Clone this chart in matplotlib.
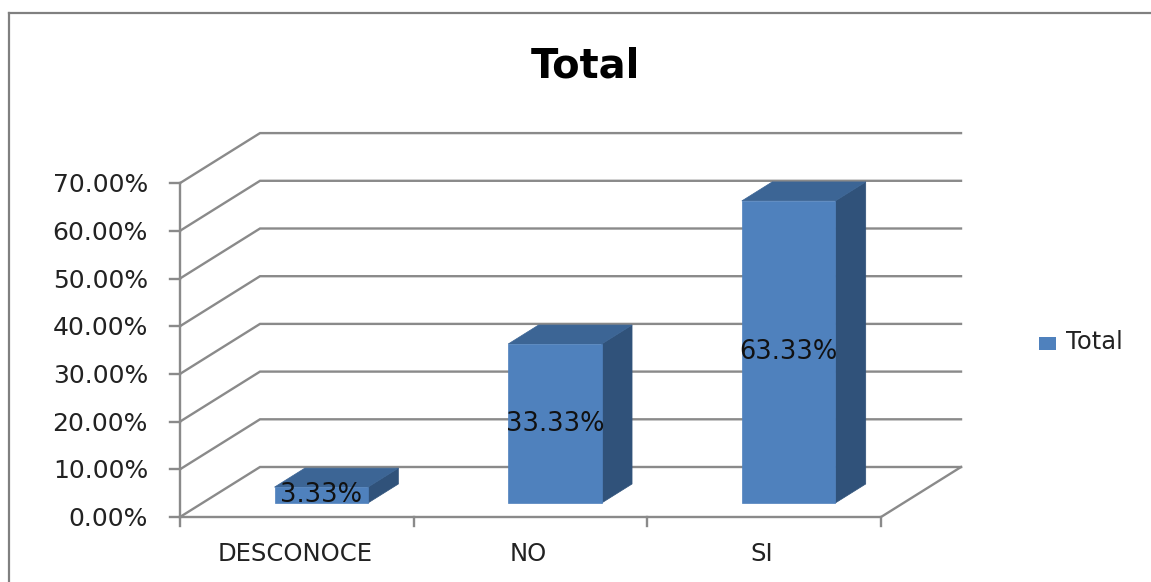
import matplotlib
matplotlib.use('Agg')
import matplotlib.pyplot as plt
from matplotlib.patches import Polygon, Rectangle
from matplotlib.lines import Line2D

# ---------------- data ----------------
categories = ['DESCONOCE', 'NO', 'SI']
values = [3.33, 33.33, 63.33]
value_labels = ['3.33%', '33.33%', '63.33%']
series_name = 'Total'
y_ticks = [0, 10, 20, 30, 40, 50, 60, 70]
y_tick_labels = ['0.00%', '10.00%', '20.00%', '30.00%', '40.00%', '50.00%', '60.00%', '70.00%']
title = 'Total'

# ---------------- layout ----------------
W, H = 1151, 582
fig = plt.figure(figsize=(W / 100, H / 100), dpi=100)
ax = fig.add_axes([0, 0, 1, 1])

PXX = 233.67   # pixels per category unit
PXY = 4.77     # pixels per percent
X0_PX = 180    # x pixel of category origin
Y0_PX = 517    # y pixel (from top) of 0 %
ax.set_xlim(-X0_PX / PXX, (W - X0_PX) / PXX)
ax.set_ylim(-(H - Y0_PX) / PXY, Y0_PX / PXY)
ax.axis('off')

DEPTH_X = 80 / PXX
DEPTH_Y = 50 / PXY


def P(x, y, d):
    return (x + d * DEPTH_X, y + d * DEPTH_Y)


n = len(categories)
ymax = y_ticks[-1]
grid_c = '#8a8a8a'
glw = 1.7

# gridlines: left wall diagonal + back wall horizontal
for t in y_ticks:
    pts = [P(0, t, 0), P(0, t, 1), P(n, t, 1)]
    ax.add_line(Line2D([p[0] for p in pts], [p[1] for p in pts], color=grid_c, lw=glw,
                       solid_joinstyle='miter', zorder=1))

# floor outline
pts = [P(0, 0, 0), P(n, 0, 0), P(n, 0, 1)]
ax.add_line(Line2D([p[0] for p in pts], [p[1] for p in pts], color=grid_c, lw=glw, zorder=1))

# vertical axis line
ax.add_line(Line2D([0, 0], [0, ymax], color=grid_c, lw=glw, zorder=2))
# y ticks
for t in y_ticks:
    ax.add_line(Line2D([-10 / PXX, 0], [t, t], color=grid_c, lw=glw, zorder=2))
# category ticks
for i in range(n + 1):
    ax.add_line(Line2D([i, i], [0, -9 / PXY], color=grid_c, lw=glw, zorder=2))

# y tick labels
for t, lab in zip(y_ticks, y_tick_labels):
    ax.text(-32 / PXX, t - 9 / PXY, lab, ha='right', va='baseline',
            fontsize=18, color='#222222', family='DejaVu Sans')

# category labels
for i, c in enumerate(categories):
    ax.text(i + 0.5 - 2 / PXX, -44 / PXY, c, ha='center', va='baseline',
            fontsize=17.5, color='#222222', family='DejaVu Sans')

# bars
front_c = '#4f81bd'
top_c = '#3c6595'
side_c = '#30527a'
half = 0.20
d0, d1 = 0.28, 0.66
for i, (v, lab) in enumerate(zip(values, value_labels)):
    xc = i + 0.5 + 2 / PXX
    xl, xr = xc - half, xc + half
    front = [P(xl, 0, d0), P(xr, 0, d0), P(xr, v, d0), P(xl, v, d0)]
    top = [P(xl, v, d0), P(xr, v, d0), P(xr, v, d1), P(xl, v, d1)]
    side = [P(xr, 0, d0), P(xr, 0, d1), P(xr, v, d1), P(xr, v, d0)]
    ax.add_patch(Polygon(side, closed=True, facecolor=side_c, edgecolor=side_c, lw=0.5, zorder=3))
    ax.add_patch(Polygon(top, closed=True, facecolor=top_c, edgecolor=top_c, lw=0.5, zorder=3))
    ax.add_patch(Polygon(front, closed=True, facecolor=front_c, edgecolor=front_c, lw=0.5, zorder=4))
    lx, ly = P(xc, v / 2, d0)
    ax.text(lx, ly, lab, ha='center', va='center', fontsize=18.5, color='#111111',
            family='DejaVu Sans', zorder=6)

# title
fig.text(585 / W, 1 - 78 / H, title, ha='center', va='baseline', fontsize=28.8,
         fontweight='bold', color='#000000', family='DejaVu Sans')

# legend
fig.patches.append(Rectangle((1039 / W, 1 - 350 / H), 17 / W, 13 / H, transform=fig.transFigure,
                             facecolor=front_c, edgecolor='none'))
fig.text(1066 / W, 1 - 349 / H, series_name, ha='left', va='baseline', fontsize=17.5,
         color='#222222', family='DejaVu Sans')

# chart border (top and left visible)
border_c = '#808080'
fig.add_artist(Line2D([9 / W, 9 / W], [0, 1 - 13 / H], transform=fig.transFigure,
                      color=border_c, lw=1.6))
fig.add_artist(Line2D([9 / W, 1], [1 - 13 / H, 1 - 13 / H], transform=fig.transFigure,
                      color=border_c, lw=1.6))

fig.savefig('out.png', dpi=100, facecolor='white')
